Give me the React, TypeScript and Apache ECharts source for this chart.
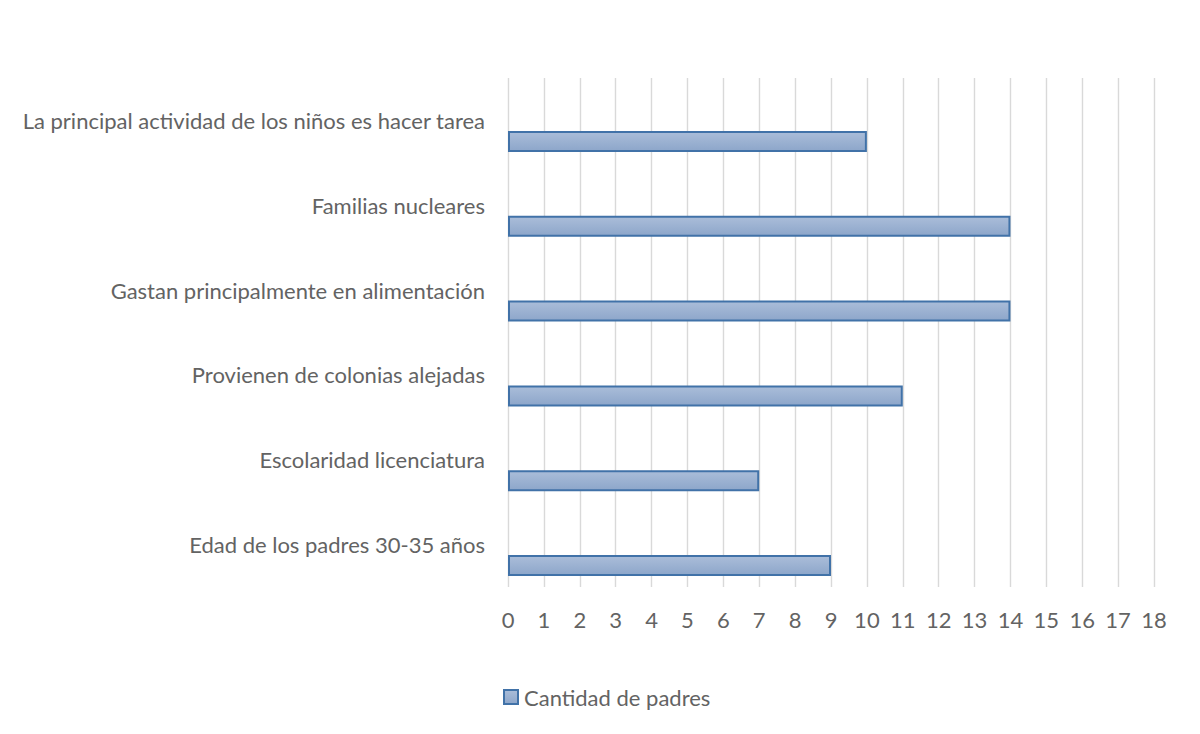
import React, { useEffect, useRef } from "react";
import * as echarts from "echarts";

const categories = [
  "Edad de los padres 30-35 años",
  "Escolaridad licenciatura",
  "Provienen de colonias alejadas",
  "Gastan principalmente en alimentación",
  "Familias nucleares",
  "La principal actividad de los niños es hacer tarea",
];
const values = [9, 7, 11, 14, 14, 10];
const placeholder = [null, null, null, null, null, null];
const seriesName = "Cantidad de padres";

const FONT = "Lato";
const GRAY = "#636363";

export default function App() {
  const ref = useRef<HTMLDivElement>(null);
  useEffect(() => {
    const chart = echarts.init(ref.current!, null, { renderer: "svg" });
    const fill = new echarts.graphic.LinearGradient(0, 0, 0, 1, [
      { offset: 0, color: "#aabdd9" },
      { offset: 1, color: "#8da6ca" },
    ]);
    chart.setOption({
      animation: false,
      backgroundColor: "#ffffff",
      textStyle: { fontFamily: FONT },
      grid: { left: 508, right: 46, top: 78, bottom: 147, containLabel: false },
      legend: {
        data: [{ name: seriesName, icon: "rect" }],
        left: 498,
        top: 681,
        itemWidth: 14,
        itemHeight: 14,
        itemGap: 10,
        textStyle: { fontFamily: FONT, fontSize: 22, color: GRAY, padding: [0, 0, 0, 1] },
      },
      xAxis: {
        type: "value",
        min: 0,
        max: 18,
        interval: 1,
        axisLine: { show: false },
        axisTick: { show: false },
        splitLine: { show: true, lineStyle: { color: "#d9d9d9", width: 1.4 } },
        axisLabel: { fontFamily: FONT, fontSize: 22, color: GRAY, margin: 21 },
      },
      yAxis: {
        type: "category",
        data: categories,
        axisLine: { show: false },
        axisTick: { show: false },
        splitLine: { show: false },
        axisLabel: { fontFamily: FONT, fontSize: 22, color: GRAY, margin: 23 },
      },
      series: [
        {
          name: "_placeholder",
          type: "bar",
          data: placeholder,
          barWidth: 21,
          barGap: "100%",
          silent: true,
        },
        {
          name: seriesName,
          type: "bar",
          data: values,
          barWidth: 21,
          barGap: "100%",
          itemStyle: { color: fill, borderColor: "#4172a8", borderWidth: 2 },
        },
      ],
    });
    return () => chart.dispose();
  }, []);
  return (
    <div
      style={{
        position: "fixed",
        left: 0,
        top: 0,
        width: 1200,
        height: 734,
        boxSizing: "border-box",
        borderTop: "2px solid #d9d9d9",
        borderLeft: "2px solid #d9d9d9",
        borderRight: "2px solid #d9d9d9",
        background: "#fff",
      }}
    >
      <div ref={ref} style={{ position: "absolute", left: -2, top: -2, width: 1200, height: 734 }} />
    </div>
  );
}
